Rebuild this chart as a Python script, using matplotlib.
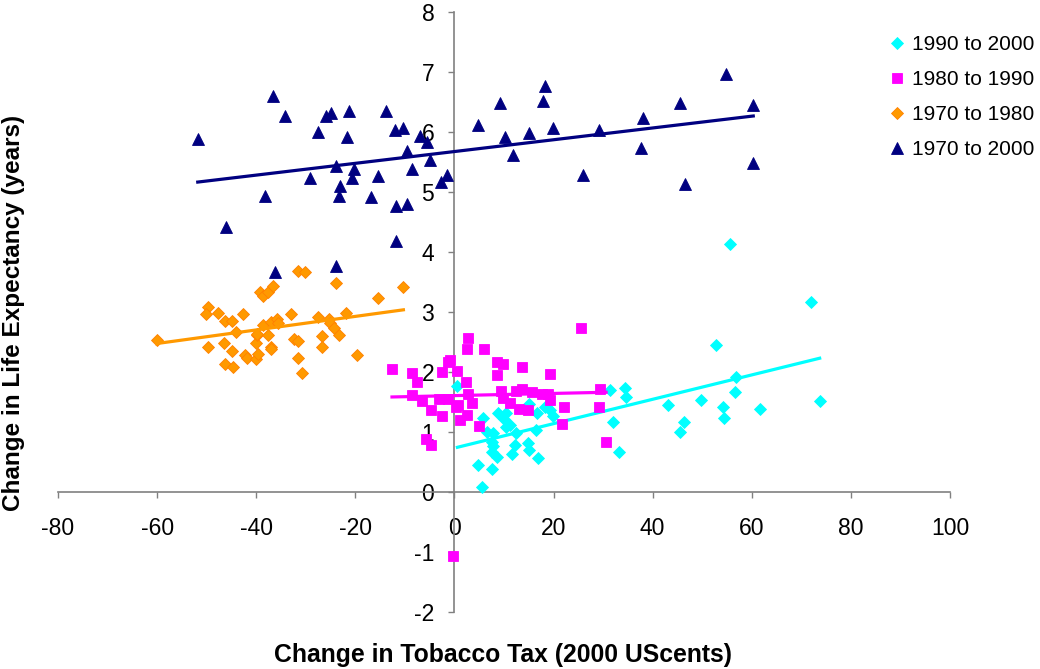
import numpy as np
import matplotlib
matplotlib.use("Agg")
import matplotlib.pyplot as plt

plt.rcParams["font.family"] = ["Liberation Sans", "DejaVu Sans"]
plt.rcParams["axes.unicode_minus"] = False

# 1990 to 2000
x_90_00 = [0.6, 5.7, 6.5, 7.8, 7.5, 7.7, 7.5, 8.5, 4.7, 7.5, 5.6, 8.7, 9.9, 10.4, 11.3, 11.7,
           12.2, 12.5, 10.4, 15.0, 14.9, 15.1, 16.4, 16.9, 16.7, 18.3, 19.3, 19.9, 31.4, 32.0,
           34.4, 34.7, 33.3, 55.6, 71.9, 52.8, 56.9, 43.1, 49.7, 54.1, 54.4, 56.6, 61.7, 73.7,
           46.3, 45.6]
y_90_00 = [1.76, 1.24, 1.0, 0.98, 0.84, 0.77, 0.66, 0.58, 0.45, 0.38, 0.09, 1.32, 1.21, 1.09,
           1.12, 0.63, 0.78, 0.98, 1.31, 1.47, 0.82, 0.7, 1.03, 0.56, 1.32, 1.42, 1.37, 1.26,
           1.7, 1.17, 1.73, 1.59, 0.66, 4.13, 3.16, 2.45, 1.92, 1.45, 1.53, 1.42, 1.24, 1.67,
           1.39, 1.51, 1.17, 1.0]

# 1980 to 1990
x_80_90 = [-12.6, -8.5, -7.5, -8.5, -6.5, -4.8, -2.6, -5.8, -4.8, -2.6, -1.2, -0.9, 0.5, -3.1,
           -1.2, 0.3, 1.1, 2.3, 2.6, 2.8, 2.8, 3.5, 2.6, 0.8, 5.0, 6.0, 8.5, 9.7, 8.6, 9.4, 9.7,
           11.2, 12.5, 13.6, 13.6, 13.1, 14.9, 15.6, 17.6, 19.3, 19.3, 18.9, 22.1, 21.8, 25.5,
           29.4, 29.2, 30.6, -0.2]
y_80_90 = [2.05, 1.99, 1.84, 1.62, 1.51, 1.36, 1.27, 0.88, 0.78, 2.0, 2.16, 2.2, 2.02, 1.55,
           1.55, 1.41, 1.2, 1.84, 2.38, 2.56, 1.63, 1.49, 1.28, 1.45, 1.1, 2.38, 2.16, 2.13,
           1.95, 1.69, 1.56, 1.49, 1.69, 2.08, 1.71, 1.38, 1.36, 1.67, 1.64, 1.97, 1.53, 1.63,
           1.41, 1.14, 2.73, 1.72, 1.42, 0.84, -1.07]

# 1970 to 1980
x_70_80 = [-60.1, -49.8, -50.1, -47.7, -46.3, -44.9, -42.6, -44.0, -49.8, -46.6, -44.9, -46.3,
           -44.6, -42.3, -41.8, -40.1, -39.7, -40.1, -39.9, -39.2, -38.7, -37.7, -36.7, -38.6,
           -37.7, -37.0, -35.9, -35.6, -37.0, -33.0, -32.3, -31.6, -31.5, -30.8, -31.6, -30.2,
           -27.5, -25.3, -25.1, -24.4, -23.2, -26.8, -26.8, -21.9, -24.0, -19.6, -15.5, -10.3,
           -37.1, -39.9]
y_70_80 = [2.54, 3.08, 2.96, 2.99, 2.85, 2.85, 2.96, 2.66, 2.42, 2.49, 2.35, 2.13, 2.09, 2.29,
           2.23, 2.21, 2.3, 2.49, 2.62, 3.34, 3.27, 3.33, 3.44, 2.78, 2.62, 2.84, 2.89, 2.81,
           2.41, 2.96, 2.55, 2.52, 2.24, 1.98, 3.69, 3.66, 2.91, 2.89, 2.81, 2.73, 2.62, 2.6,
           2.42, 2.99, 3.49, 2.28, 3.24, 3.41, 2.39, 2.64]

# 1970 to 2000
x_70_00 = [-51.8, -36.7, -34.1, -27.5, -26.0, -25.0, -21.3, -13.8, -21.7, -12.0, -10.3, -7.0,
           -5.5, -9.6, -4.9, -8.5, -1.6, -2.7, -24.0, -20.2, -20.6, -29.2, -15.5, -23.0, -23.3,
           -38.2, -16.8, -9.6, -11.7, -46.0, -11.7, -36.2, -23.9, 4.7, 9.2, 10.3, 11.9, 15.0,
           18.2, 17.8, 19.9, 26.0, 29.1, 38.0, 37.6, 45.6, 46.6, 54.8, 60.3, 60.3]
y_70_00 = [5.89, 6.6, 6.26, 6.0, 6.26, 6.32, 6.35, 6.35, 5.92, 6.03, 6.06, 5.93, 5.84, 5.69,
           5.53, 5.39, 5.28, 5.16, 5.43, 5.38, 5.23, 5.23, 5.26, 5.1, 4.93, 4.93, 4.92, 4.8,
           4.76, 4.41, 4.19, 3.66, 3.76, 6.12, 6.48, 5.92, 5.62, 5.99, 6.77, 6.51, 6.06, 5.28,
           6.03, 6.23, 5.73, 6.48, 5.14, 6.96, 6.45, 5.48]

series = [
    ("1990 to 2000", x_90_00, y_90_00, "D", 6.2, "#00FFFF", "#00FFFF"),
    ("1980 to 1990", x_80_90, y_80_90, "s", 6.7, "#FF00FF", "#FF00FF"),
    ("1970 to 1980", x_70_80, y_70_80, "D", 6.2, "#FF9900", "#FF8000"),
    ("1970 to 2000", x_70_00, y_70_00, "^", 8.4, "#000080", "#000080"),
]

fig = plt.figure(figsize=(10.4, 6.69), dpi=100)
ax = fig.add_axes([58 / 1040, 57 / 669, 892 / 1040, 600 / 669])

for i, (label, xs, ys, mk, ms, col, ec) in enumerate(series):
    xs = np.array(xs)
    ys = np.array(ys)
    ax.plot(xs, ys, linestyle="none", marker=mk, markersize=ms, color=col,
            markeredgecolor=ec, markeredgewidth=0.6, label=label, zorder=3 + i)
    # linear trend line (like Excel's)
    k, b = np.polyfit(xs, ys, 1)
    xx = np.array([xs.min(), xs.max()])
    ax.plot(xx, k * xx + b, color=col, linewidth=2.3, zorder=3 + i)

ax.set_xlim(-80, 100)
ax.set_ylim(-2, 8)
ax.set_xticks(np.arange(-80, 101, 20))
ax.set_yticks(np.arange(-2, 9, 1))

ax.spines["left"].set_position(("data", 0))
ax.spines["bottom"].set_position(("data", 0))
ax.spines["top"].set_visible(False)
ax.spines["right"].set_visible(False)
for s in ["left", "bottom"]:
    ax.spines[s].set_color("#808080")
    ax.spines[s].set_linewidth(1.2)

ax.tick_params(axis="x", direction="out", length=4, width=1, color="#808080",
               pad=14, labelsize=16.5)
ax.tick_params(axis="y", direction="out", length=4, width=1, color="#808080",
               pad=10.5, labelsize=16.5)

fig.text(503 / 1040, 1 - 655 / 669, "Change in Tobacco Tax (2000 UScents)",
         ha="center", va="center", fontsize=17.8, fontweight="bold")
fig.text(14 / 1040, 1 - 313 / 669, "Change in Life Expectancy (years)",
         ha="center", va="center", rotation=90, fontsize=17.5, fontweight="bold")

ax.legend(loc="upper left", bbox_to_anchor=(889 / 1040, 1 - 35 / 669),
          bbox_transform=fig.transFigure, frameon=False, fontsize=15,
          handlelength=0.8, handletextpad=0.3, labelspacing=0.77,
          borderpad=0, borderaxespad=0, numpoints=1)

fig.savefig("out.png", dpi=100)
